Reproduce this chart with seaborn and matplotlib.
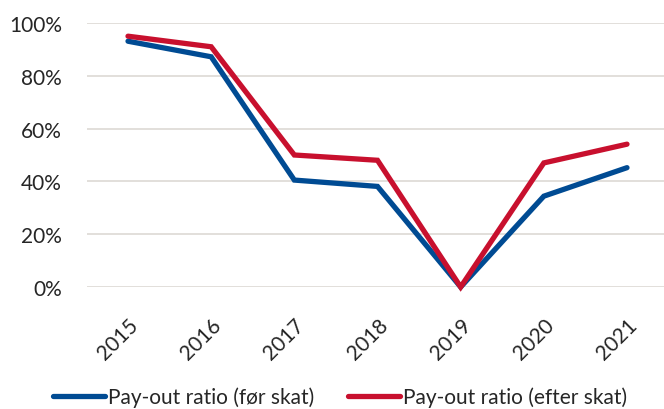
import matplotlib
matplotlib.use("Agg")
import matplotlib.pyplot as plt
import seaborn as sns
import pandas as pd
from matplotlib.ticker import PercentFormatter

years = ["2015", "2016", "2017", "2018", "2019", "2020", "2021"]
foer_skat = [0.931, 0.872, 0.405, 0.381, 0.0, 0.344, 0.452]
efter_skat = [0.950, 0.910, 0.500, 0.480, 0.0, 0.470, 0.541]
series_names = ["Pay-out ratio (før skat)", "Pay-out ratio (efter skat)"]
colors = ["#004B93", "#C8102E"]

df = pd.DataFrame({
    "year": years * 2,
    "value": foer_skat + efter_skat,
    "series": [series_names[0]] * len(years) + [series_names[1]] * len(years),
})
df["x"] = list(range(len(years))) * 2

sns.set_theme(style="white")
plt.rcParams["font.family"] = ["Lato", "DejaVu Sans"]

fig = plt.figure(figsize=(6.64, 4.10), dpi=100)
W, H = 664, 410
ax = fig.add_axes([87 / W, 1 - 288 / H, (664 - 87) / W, (288 - 24) / H])

sns.lineplot(data=df, x="x", y="value", hue="series", palette=colors,
             linewidth=3.8, ax=ax, legend=True, clip_on=False)
for ln in ax.lines:
    ln.set_solid_capstyle("round")
    ln.set_solid_joinstyle("miter")

ax.set_xlim(-0.493, 6.445)
ax.set_ylim(0, 1)
ax.set_yticks([0, 0.2, 0.4, 0.6, 0.8, 1.0])
ax.yaxis.set_major_formatter(PercentFormatter(1.0, decimals=0))
ax.set_xticks(range(len(years)))
ax.set_xticklabels(years, rotation=45, ha="right", rotation_mode="anchor")
ax.grid(axis="y", color="#DDD9D4", linewidth=1.2)
ax.grid(axis="x", visible=False)
for s in ax.spines.values():
    s.set_visible(False)
ax.tick_params(axis="both", length=0, labelsize=15, labelcolor="#262626")
ax.tick_params(axis="y", pad=18)
ax.tick_params(axis="x", pad=20)
ax.set_xlabel("")
ax.set_ylabel("")

handles, labels = ax.get_legend_handles_labels()
leg = ax.legend(handles, labels, loc="center", ncol=2, frameon=False, fontsize=15,
                handlelength=2.5, handletextpad=0.15, columnspacing=1.6)
leg.set_bbox_to_anchor((340 / W, 1 - 398 / H), transform=fig.transFigure)
for t in leg.get_texts():
    t.set_color("#262626")
for lh in leg.get_lines():
    lh.set_linewidth(3.8)
    lh.set_solid_capstyle("round")

fig.savefig("out.png", dpi=100)
